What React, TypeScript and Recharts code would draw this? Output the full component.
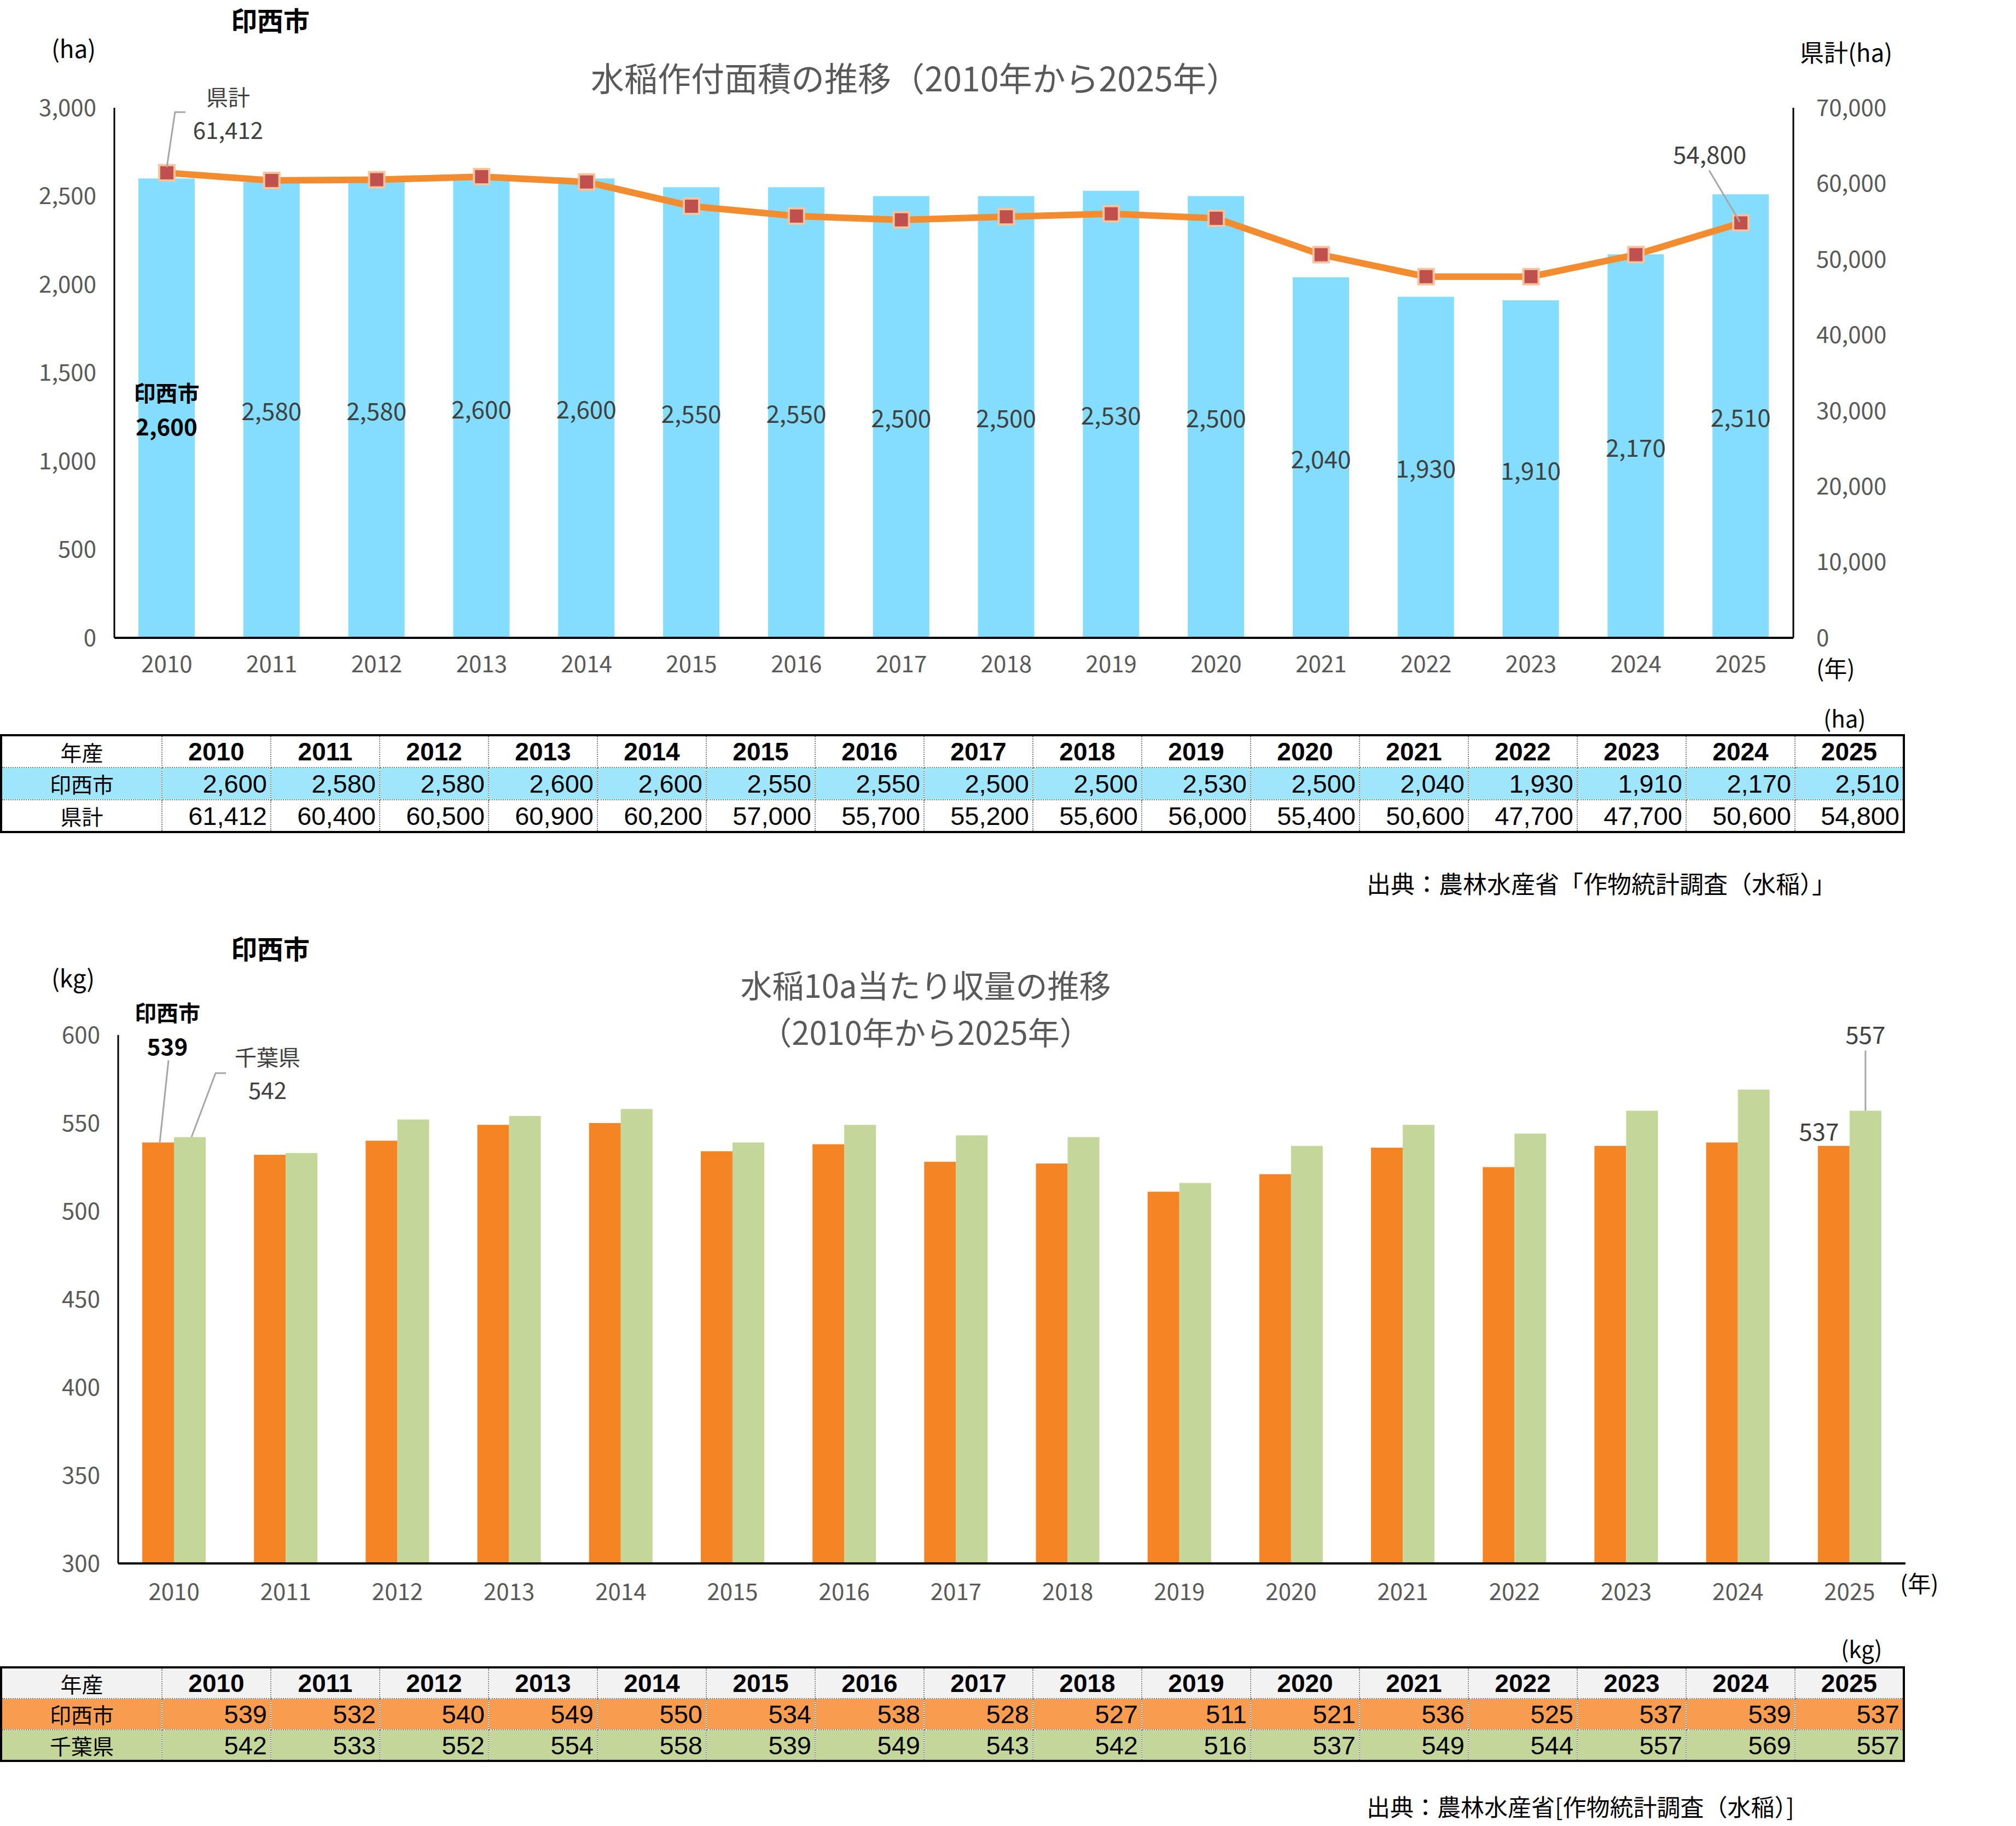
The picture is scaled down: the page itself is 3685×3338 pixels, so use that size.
import React from "react";
import { Bar, BarChart, ComposedChart, LabelList, Line, XAxis, YAxis } from "recharts";

const years = ["2010", "2011", "2012", "2013", "2014", "2015", "2016", "2017", "2018", "2019", "2020", "2021", "2022", "2023", "2024", "2025"];
const inzaiArea = [2600, 2580, 2580, 2600, 2600, 2550, 2550, 2500, 2500, 2530, 2500, 2040, 1930, 1910, 2170, 2510];
const prefArea = [61412, 60400, 60500, 60900, 60200, 57000, 55700, 55200, 55600, 56000, 55400, 50600, 47700, 47700, 50600, 54800];
const inzaiYield = [539, 532, 540, 549, 550, 534, 538, 528, 527, 511, 521, 536, 525, 537, 539, 537];
const chibaYield = [542, 533, 552, 554, 558, 539, 549, 543, 542, 516, 537, 549, 544, 557, 569, 557];

const areaTicks = [0, 500, 1000, 1500, 2000, 2500, 3000];
const prefTicks = [0, 10000, 20000, 30000, 40000, 50000, 60000, 70000];
const yieldTicks = [300, 350, 400, 450, 500, 550, 600];

const areaData = years.map((y, i) => ({ year: y, inzai: inzaiArea[i], pref: prefArea[i] }));
const yieldData = years.map((y, i) => ({ year: y, inzai: inzaiYield[i], chiba: chibaYield[i] }));

const FONT = '"Noto Sans CJK JP", "Noto Sans", sans-serif';
// narrower digits for the tables
const NUMFONT = '"Liberation Sans Narrow", "Liberation Sans", "Noto Sans CJK JP", sans-serif';
const GRAY = "#595959";
const LABEL = "#404040";
const LEADER = "#A6A6A6";
const fmt = (v: number) => Number(v).toLocaleString("en-US");

const tickStyle = { fontSize: 42, fill: GRAY, fontFamily: FONT };

function box(props: any) {
  const vb = props.viewBox && props.viewBox.x !== undefined ? props.viewBox : props;
  return { x: Number(vb.x), y: Number(vb.y), w: Number(vb.width || 0), h: Number(vb.height || 0) };
}

function AreaBarLabel(props: any) {
  const { x, y, w, h } = box(props);
  const cx = x + w / 2;
  const cy = y + h / 2;
  if (props.index === 0) {
    return (
      <g fontFamily={FONT}>
        <text x={cx} y={cy - 29} textAnchor="middle" dominantBaseline="central" fontSize={40} fontWeight="bold" fill="#000">印西市</text>
        <text x={cx} y={cy + 31} textAnchor="middle" dominantBaseline="central" fontSize={42} fontWeight="bold" fill="#000">{fmt(props.value)}</text>
      </g>
    );
  }
  return (
    <text x={cx} y={cy} textAnchor="middle" dominantBaseline="central" fontSize={44} fill={LABEL} fontFamily={FONT}>{fmt(props.value)}</text>
  );
}

function PrefLineLabel(props: any) {
  const { x, y } = box(props);
  if (props.index === 0) {
    return (
      <g fontFamily={FONT}>
        <polyline points={`${x},${y - 10} ${x + 15},${y - 111} ${x + 34},${y - 111}`} fill="none" stroke={LEADER} strokeWidth={3} />
        <text x={x + 112} y={y - 140} textAnchor="middle" dominantBaseline="central" fontSize={40} fill={LABEL}>県計</text>
        <text x={x + 112} y={y - 80} textAnchor="middle" dominantBaseline="central" fontSize={42} fill={LABEL}>{fmt(props.value)}</text>
      </g>
    );
  }
  if (props.index === years.length - 1) {
    return (
      <g fontFamily={FONT}>
        <line x1={x - 58} y1={y - 96} x2={x - 2} y2={y - 2} stroke={LEADER} strokeWidth={3} />
        <text x={x - 57} y={y - 127} textAnchor="middle" dominantBaseline="central" fontSize={44} fill={LABEL}>{fmt(props.value)}</text>
      </g>
    );
  }
  return null;
}

function InzaiYieldLabel(props: any) {
  const { x, y, w } = box(props);
  const cx = x + w / 2;
  if (props.index === 0) {
    return (
      <g fontFamily={FONT}>
        <line x1={cx + 19} y1={y - 150} x2={cx + 3} y2={y} stroke={LEADER} strokeWidth={3} />
        <text x={cx + 17} y={y - 238} textAnchor="middle" dominantBaseline="central" fontSize={40} fontWeight="bold" fill="#000">印西市</text>
        <text x={cx + 17} y={y - 178} textAnchor="middle" dominantBaseline="central" fontSize={42} fontWeight="bold" fill="#000">{props.value}</text>
      </g>
    );
  }
  if (props.index === years.length - 1) {
    return (
      <text x={cx - 27} y={y - 29} textAnchor="middle" dominantBaseline="central" fontSize={44} fill={LABEL} fontFamily={FONT}>{props.value}</text>
    );
  }
  return null;
}

function ChibaYieldLabel(props: any) {
  const { x, y, w } = box(props);
  const cx = x + w / 2;
  if (props.index === 0) {
    return (
      <g fontFamily={FONT}>
        <polyline points={`${cx + 66},${y - 117} ${cx + 47},${y - 117} ${cx + 3},${y}`} fill="none" stroke={LEADER} strokeWidth={3} />
        <text x={cx + 142} y={y - 148} textAnchor="middle" dominantBaseline="central" fontSize={40} fill={LABEL}>千葉県</text>
        <text x={cx + 142} y={y - 88} textAnchor="middle" dominantBaseline="central" fontSize={42} fill={LABEL}>{props.value}</text>
      </g>
    );
  }
  if (props.index === years.length - 1) {
    return (
      <g fontFamily={FONT}>
        <line x1={cx} y1={y - 110} x2={cx} y2={y} stroke={LEADER} strokeWidth={3} />
        <text x={cx} y={y - 141} textAnchor="middle" dominantBaseline="central" fontSize={44} fill={LABEL}>{props.value}</text>
      </g>
    );
  }
  return null;
}

const squareDot = (p: any) => (
  <rect key={`dot-${p.index}`} x={p.cx - 14} y={p.cy - 14} width={28} height={28} fill="#C0504D" stroke="#F8C39C" strokeWidth={4} />
);

function Txt({ x, y, size, children, bold, color, anchor }: any) {
  const shift = anchor === "middle" ? "-50%" : anchor === "end" ? "-100%" : "0";
  return (
    <div
      style={{
        position: "absolute",
        left: x,
        top: y,
        transform: `translate(${shift}, -50%)`,
        fontSize: size,
        fontWeight: bold ? "bold" : "normal",
        color: color || "#000",
        whiteSpace: "nowrap",
        lineHeight: 1.1,
      }}
    >
      {children}
    </div>
  );
}

function DataTable({ top, rows, headerBg, heights }: any) {
  const inner = "2px dotted #7f7f7f";
  const cell = { border: inner, lineHeight: 1, padding: 0, overflow: "hidden", verticalAlign: "middle" } as const;
  return (
    <table
      style={{
        position: "absolute",
        left: 0,
        top,
        borderCollapse: "collapse",
        tableLayout: "fixed",
        width: 3482,
        border: "4px solid #000",
        fontFamily: FONT,
      }}
    >
      <colgroup>
        <col style={{ width: 294 }} />
        {years.map((y) => (
          <col key={y} style={{ width: 199 }} />
        ))}
      </colgroup>
      <tbody>
        <tr style={{ height: heights[0], background: headerBg }}>
          <td style={{ ...cell, textAlign: "center", fontSize: 39 }}>年産</td>
          {years.map((y) => (
            <td key={y} style={{ ...cell, textAlign: "center", fontSize: 46, fontWeight: "bold", fontFamily: NUMFONT }}>{y}</td>
          ))}
        </tr>
        {rows.map((r: any, ri: number) => (
          <tr key={r.label} style={{ height: heights[ri + 1], background: r.bg }}>
            <td style={{ ...cell, textAlign: "center", fontSize: 39 }}>{r.label}</td>
            {r.values.map((v: number, i: number) => (
              <td key={i} style={{ ...cell, textAlign: "right", fontSize: 47, fontFamily: NUMFONT, paddingRight: 6 }}>{fmt(v)}</td>
            ))}
          </tr>
        ))}
      </tbody>
    </table>
  );
}

export default function App() {
  return (
    <div style={{ position: "absolute", left: 0, top: 0, width: 3685, height: 3338, background: "#fff", fontFamily: FONT, overflow: "hidden" }}>
      {/* 作付面積 */}
      <div style={{ position: "absolute", left: 0, top: 0 }}>
        <ComposedChart width={3685} height={1300} data={areaData} margin={{ top: 197, right: 0, bottom: 54, left: 0 }}>
          <XAxis dataKey="year" height={80} tick={tickStyle} tickLine={false} tickSize={0} tickMargin={33} axisLine={{ stroke: "#000", strokeWidth: 4 }} />
          <YAxis yAxisId="area" width={209} domain={[0, 3000]} ticks={areaTicks} tickFormatter={fmt} tick={tickStyle} tickLine={false} tickSize={0} tickMargin={33} axisLine={{ stroke: "#000", strokeWidth: 3 }} />
          <YAxis yAxisId="pref" orientation="right" width={407} domain={[0, 70000]} ticks={prefTicks} tickFormatter={fmt} tick={tickStyle} tickLine={false} tickSize={0} tickMargin={42} axisLine={{ stroke: "#000", strokeWidth: 3 }} />
          <Bar yAxisId="area" dataKey="inzai" fill="#84DDFD" barSize={103} isAnimationActive={false}>
            <LabelList dataKey="inzai" content={AreaBarLabel} />
          </Bar>
          <Line yAxisId="pref" dataKey="pref" stroke="#F38B2F" strokeWidth={12} dot={squareDot} activeDot={false} isAnimationActive={false}>
            <LabelList dataKey="pref" content={PrefLineLabel} />
          </Line>
        </ComposedChart>
      </div>

      <Txt x={494} y={35} size={48} bold anchor="middle">印西市</Txt>
      <Txt x={94} y={87} size={44}>(ha)</Txt>
      <Txt x={1673} y={141} size={61} color={GRAY} anchor="middle">水稲作付面積の推移（2010年から2025年）</Txt>
      <Txt x={3290} y={94} size={44}>県計(ha)</Txt>
      <Txt x={3320} y={1220} size={42}>(年)</Txt>
      <Txt x={3333} y={1312} size={42}>(ha)</Txt>

      <DataTable
        top={1342}
        headerBg="#fff"
        heights={[59, 59, 59]}
        rows={[
          { label: "印西市", values: inzaiArea, bg: "#9FE6FC" },
          { label: "県計", values: prefArea, bg: "#fff" },
        ]}
      />
      <Txt x={2498} y={1614} size={44}>出典：農林水産省「作物統計調査（水稲）」</Txt>

      {/* 10a当たり収量 */}
      <div style={{ position: "absolute", left: 0, top: 1700 }}>
        <BarChart width={3685} height={1250} data={yieldData} margin={{ top: 192, right: 202, bottom: 12, left: 0 }} barGap={0}>
          <XAxis dataKey="year" height={80} tick={tickStyle} tickLine={false} tickSize={0} tickMargin={37} axisLine={{ stroke: "#000", strokeWidth: 4 }} />
          <YAxis width={216} domain={[300, 600]} ticks={yieldTicks} tick={tickStyle} tickLine={false} tickSize={0} tickMargin={33} axisLine={{ stroke: "#000", strokeWidth: 3 }} />
          <Bar dataKey="inzai" fill="#F58424" barSize={58} isAnimationActive={false}>
            <LabelList dataKey="inzai" content={InzaiYieldLabel} />
          </Bar>
          <Bar dataKey="chiba" fill="#C4D79B" barSize={58} isAnimationActive={false}>
            <LabelList dataKey="chiba" content={ChibaYieldLabel} />
          </Bar>
        </BarChart>
      </div>

      <Txt x={494} y={1732} size={48} bold anchor="middle">印西市</Txt>
      <Txt x={94} y={1786} size={44}>(kg)</Txt>
      <Txt x={1692} y={1800} size={58} color={GRAY} anchor="middle">水稲10a当たり収量の推移</Txt>
      <Txt x={1692} y={1886} size={58} color={GRAY} anchor="middle">（2010年から2025年）</Txt>
      <Txt x={3473} y={2893} size={42}>(年)</Txt>
      <Txt x={3365} y={3013} size={42}>(kg)</Txt>

      <DataTable
        top={3046}
        headerBg="#F2F2F2"
        heights={[57, 57, 57]}
        rows={[
          { label: "印西市", values: inzaiYield, bg: "#F89C50" },
          { label: "千葉県", values: chibaYield, bg: "#C4D79B" },
        ]}
      />
      <Txt x={2498} y={3302} size={43}>出典：農林水産省[作物統計調査（水稲）]</Txt>
    </div>
  );
}
